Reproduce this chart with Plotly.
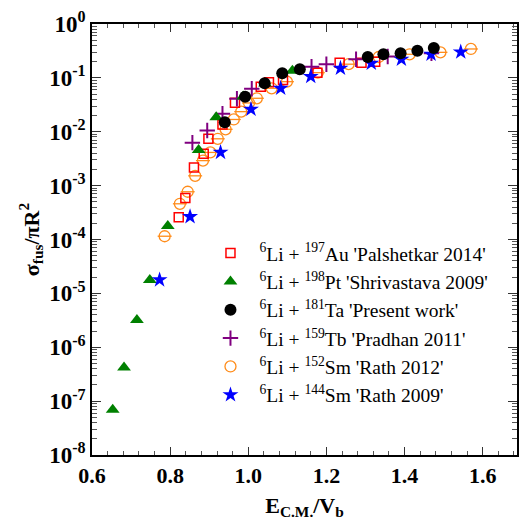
import plotly.graph_objects as go

# E_CM / V_b  and  sigma_fus / (pi R^2) for each 6Li-induced fusion system
au197_x = [0.822, 0.839, 0.861, 0.886, 0.898, 0.934, 0.966, 1.032, 1.053, 1.089, 1.177, 1.234, 1.290, 1.325]
au197_y = [2.6e-4, 5.9e-4, 2.18e-3, 3.9e-3, 7.4e-3, 0.0136, 0.0347, 0.0687, 0.0829, 0.0914, 0.125, 0.191, 0.191, 0.200]

pt198_x = [0.653, 0.682, 0.715, 0.748, 0.794, 0.873, 0.918, 0.987, 1.043, 1.113]
pt198_y = [6.9e-8, 4.2e-7, 3.2e-6, 1.78e-5, 1.79e-4, 4.6e-3, 0.0186, 0.045, 0.079, 0.136]

ta181_x = [0.940, 0.992, 1.042, 1.087, 1.132, 1.306, 1.346, 1.390, 1.433, 1.475]
ta181_y = [0.0150, 0.0448, 0.0794, 0.1217, 0.145, 0.244, 0.274, 0.286, 0.318, 0.359]

tb159_x = [0.857, 0.895, 0.934, 0.971, 1.009, 1.162, 1.200, 1.276, 1.357, 1.469]
tb159_y = [6.28e-3, 0.01057, 0.0216, 0.0411, 0.063, 0.161, 0.1795, 0.221, 0.249, 0.286]

sm152_x = [0.786, 0.825, 0.845, 0.864, 0.884, 0.903, 0.922, 0.942, 0.963, 0.982, 1.002, 1.022,
           1.060, 1.099, 1.178, 1.257, 1.334, 1.413, 1.492, 1.570]
sm152_y = [1.15e-4, 4.6e-4, 7.7e-4, 1.52e-3, 2.91e-3, 4.13e-3, 7.4e-3, 0.0111, 0.0169, 0.0236, 0.0342, 0.0418,
           0.0641, 0.085, 0.125, 0.1795, 0.244, 0.274, 0.298, 0.344]

sm144_x = [0.773, 0.851, 0.929, 1.007, 1.083, 1.160, 1.236, 1.315, 1.392, 1.468, 1.544]
sm144_y = [1.78e-5, 2.65e-4, 4.15e-3, 0.0261, 0.0642, 0.106, 0.151, 0.187, 0.221, 0.274, 0.302]

x_tick_vals = [0.6, 0.8, 1.0, 1.2, 1.4, 1.6]
x_tick_text = ["0.6", "0.8", "1.0", "1.2", "1.4", "1.6"]
x_minor_vals = [round(0.6 + 0.04 * i, 2) for i in range(28)]
y_exponents = [0, -1, -2, -3, -4, -5, -6, -7, -8]

SERIF = "Liberation Serif, Times New Roman, serif"
ORANGE = "#ff8c1a"

fig = go.Figure()

# drawing order (back to front); legendrank keeps the legend order
fig.add_trace(go.Scatter(
    x=sm152_x, y=sm152_y, mode="markers", legendrank=5,
    name="<sup>6</sup>Li + <sup>152</sup>Sm 'Rath 2012'",
    marker=dict(symbol="circle-open", size=11, color=ORANGE, line=dict(width=1.3, color=ORANGE))))
fig.add_trace(go.Scatter(
    x=sm152_x, y=sm152_y, mode="markers", showlegend=False, hoverinfo="skip",
    marker=dict(symbol="line-ew", size=10, color=ORANGE, line=dict(width=1.3, color=ORANGE))))
fig.add_trace(go.Scatter(
    x=au197_x, y=au197_y, mode="markers", legendrank=1,
    name="<sup>6</sup>Li + <sup>197</sup>Au 'Palshetkar 2014'",
    marker=dict(symbol="square-open", size=9, color="#ff0000", line=dict(width=1.5, color="#ff0000"))))
fig.add_trace(go.Scatter(
    x=tb159_x, y=tb159_y, mode="markers", legendrank=4,
    name="<sup>6</sup>Li + <sup>159</sup>Tb 'Pradhan 2011'",
    marker=dict(symbol="cross-thin-open", size=11, color="#800080", line=dict(width=2, color="#800080"))))
fig.add_trace(go.Scatter(
    x=pt198_x, y=pt198_y, mode="markers", legendrank=2,
    name="<sup>6</sup>Li + <sup>198</sup>Pt 'Shrivastava 2009'",
    marker=dict(symbol="triangle-up", size=12, color="#008000")))
fig.add_trace(go.Scatter(
    x=sm144_x, y=sm144_y, mode="markers", legendrank=6,
    name="<sup>6</sup>Li + <sup>144</sup>Sm 'Rath 2009'",
    marker=dict(symbol="star", size=12, color="#0000ff")))
fig.add_trace(go.Scatter(
    x=ta181_x, y=ta181_y, mode="markers", legendrank=3,
    name="<sup>6</sup>Li + <sup>181</sup>Ta 'Present work'",
    marker=dict(symbol="circle", size=12, color="#000000")))

y_minor = [m * 10.0 ** e for e in range(-8, 0) for m in range(2, 10)]

fig.update_xaxes(
    type="linear", range=[0.6, 1.688],
    tickmode="array", tickvals=x_tick_vals, ticktext=[f"<b>{t}</b>" for t in x_tick_text],
    ticks="inside", ticklen=8, tickwidth=1, tickcolor="#333",
    minor=dict(tickmode="array", tickvals=x_minor_vals, ticks="inside", ticklen=4, tickcolor="#555"),
    showline=True, linecolor="black", linewidth=1.5, mirror="ticks",
    showgrid=False, zeroline=False,
    tickfont=dict(family=SERIF, size=22, color="black", weight="bold"),
    title=dict(text="<b>E<sub>C.M.</sub>/V<sub>b</sub></b>", standoff=10,
               font=dict(family=SERIF, size=22, color="black")),
)
fig.update_yaxes(
    type="log", range=[-8, 0],
    tickmode="array", tickvals=[10.0 ** e for e in y_exponents],
    ticktext=[f"<b>10<sup>{e}</sup></b>" for e in y_exponents],
    ticks="inside", ticklen=9, tickwidth=1, tickcolor="#333",
    minor=dict(tickmode="array", tickvals=y_minor, ticks="inside", ticklen=5, tickcolor="#555"),
    showline=True, linecolor="black", linewidth=1.5, mirror="ticks",
    showgrid=False, zeroline=False,
    tickfont=dict(family=SERIF, size=23, color="black", weight="bold"),
    title=dict(text="<b>σ<sub>fus</sub>/πR<sup>2</sup></b>", standoff=4,
               font=dict(family=SERIF, size=22, color="black")),
)

fig.update_layout(
    width=521, height=523,
    margin=dict(l=92, r=2, t=24, b=68),
    paper_bgcolor="white", plot_bgcolor="white",
    showlegend=True,
    legend=dict(x=0.2576, y=0.513, xanchor="left", yanchor="top", itemwidth=48,
                bgcolor="rgba(0,0,0,0)", borderwidth=0, tracegroupgap=0,
                font=dict(family=SERIF, size=19.5, color="black")),
)

fig.write_html("out.html")
